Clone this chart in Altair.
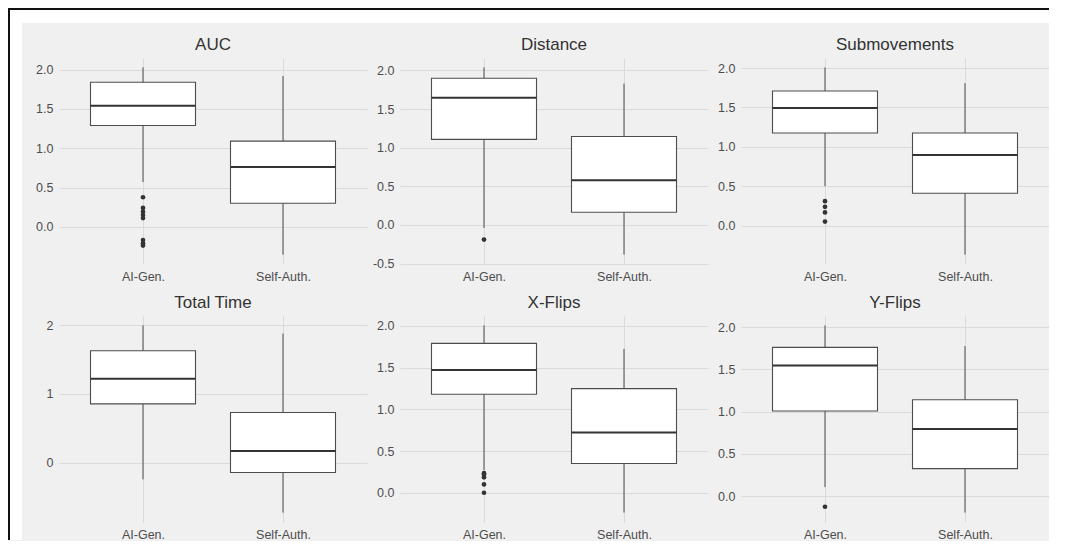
import altair as alt
import pandas as pd

panels = ["AUC", "Distance", "Submovements", "Total Time", "X-Flips", "Y-Flips"]
groups = ["AI-Gen.", "Self-Auth."]

# box statistics per panel (AI-Gen.)
ai_low = [0.57, -0.04, 0.50, -0.246, 0.27, 0.106]
ai_q1 = [1.29, 1.107, 1.176, 0.855, 1.18, 1.007]
ai_med = [1.54, 1.645, 1.494, 1.223, 1.47, 1.545]
ai_q3 = [1.84, 1.90, 1.71, 1.63, 1.79, 1.76]
ai_high = [2.03, 2.04, 2.01, 2.00, 2.006, 2.02]

# box statistics per panel (Self-Auth.)
sa_low = [-0.355, -0.385, -0.37, -0.73, -0.238, -0.196]
sa_q1 = [0.30, 0.163, 0.41, -0.145, 0.35, 0.325]
sa_med = [0.76, 0.577, 0.896, 0.17, 0.723, 0.795]
sa_q3 = [1.09, 1.145, 1.176, 0.73, 1.248, 1.14]
sa_high = [1.92, 1.83, 1.81, 1.88, 1.725, 1.776]

# outliers (all in AI-Gen.)
out_panel = ["AUC"] * 8 + ["Distance"] + ["Submovements"] * 4 + ["X-Flips"] * 5 + ["Y-Flips"]
out_value = [0.376, 0.24, 0.19, 0.15, 0.11, -0.17, -0.21, -0.24,
             -0.19,
             0.31, 0.237, 0.166, 0.05,
             0.235, 0.215, 0.185, 0.10, 0.0,
             -0.126]

tick_values = [
    [0, 0.5, 1, 1.5, 2],
    [-0.5, 0, 0.5, 1, 1.5, 2],
    [0, 0.5, 1, 1.5, 2],
    [0, 1, 2],
    [0, 0.5, 1, 1.5, 2],
    [0, 0.5, 1, 1.5, 2],
]
tick_formats = [".1f", ".1f", ".1f", "d", ".1f", ".1f"]

rows = []
for i, p in enumerate(panels):
    rows.append(dict(panel=p, group=groups[0], low=ai_low[i], q1=ai_q1[i], med=ai_med[i], q3=ai_q3[i], high=ai_high[i]))
    rows.append(dict(panel=p, group=groups[1], low=sa_low[i], q1=sa_q1[i], med=sa_med[i], q3=sa_q3[i], high=sa_high[i]))
box_df = pd.DataFrame(rows)
out_df = pd.DataFrame({"panel": out_panel, "group": groups[0], "value": out_value})

FONT = "Liberation Sans"
LINE = "#4D4D4D"
DARK = "#333333"
BORDER = "#111111"
W, H = 308, 206

def panel_chart(i):
    name = panels[i]
    b = box_df[box_df.panel == name]
    o = out_df[out_df.panel == name]
    vals = list(b.low) + list(b.high) + list(o.value)
    lo, hi = min(vals), max(vals)
    r = hi - lo
    dom = [lo - 0.05 * r, hi + 0.05 * r]
    xs = alt.Scale(type="point", domain=groups, padding=0.6)
    xa = alt.Axis(title=None, labelAngle=0)
    ys = alt.Scale(domain=dom, nice=False, zero=False)
    f = tick_formats[i]
    ya = alt.Axis(
        title=None, values=tick_values[i],
        labelExpr=f"datum.value < 0 ? '-' + format(-datum.value, '{f}') : format(datum.value, '{f}')",
    )

    def X():
        return alt.X("group:N", scale=xs, axis=xa)

    def Y(fld):
        return alt.Y(fld + ":Q", scale=ys, axis=ya)

    whisk = alt.Chart(b).mark_rule(color=LINE, strokeWidth=1).encode(x=X(), y=Y("low"), y2="high:Q")
    boxm = alt.Chart(b).mark_bar(size=105, fill="white", stroke=LINE, strokeWidth=1.1).encode(
        x=X(), y=Y("q1"), y2="q3:Q")
    med = alt.Chart(b).mark_tick(size=105, thickness=2, color=DARK, opacity=1).encode(x=X(), y=Y("med"))
    layers = [whisk, boxm, med]
    if len(o):
        pts = alt.Chart(o).mark_circle(size=22, color=DARK, opacity=1).encode(x=X(), y=Y("value"))
        layers.append(pts)

    offset = 4
    if i == 0:
        # page frame: white margin and dark border line around the grey figure area
        dummy = pd.DataFrame({"k": [0]})
        def rect(x1, x2, y1, y2, c):
            return alt.Chart(dummy).mark_rect(color=c).encode(
                x=alt.value(x1), x2=alt.value(x2), y=alt.value(y1), y2=alt.value(y2))
        layers = [
            rect(-51, -37, -50, 482, "white"),
            rect(-51, 990, -50, -35, "white"),
            rect(-51, -49, -50, 482, BORDER),
            rect(-51, 990, -50, -48, BORDER),
        ] + layers
        offset = 4 - 50

    return alt.layer(*layers).properties(
        width=W, height=H,
        title=alt.TitleParams(name, fontSize=17, font=FONT, color=DARK, fontWeight="normal",
                              anchor="middle", frame="group", offset=offset),
    )

charts = [panel_chart(i) for i in range(6)]

chart = alt.concat(*charts, columns=3, spacing=alt.RowColnumber(row=52, column=33), bounds="flush").resolve_scale(
    x="independent", y="independent"
).properties(
    background="#F0F0F0", padding=0
).configure_view(
    stroke=None
).configure_axis(
    grid=True, gridColor="#DADADA", gridWidth=1, domain=False, ticks=False,
    labelFont=FONT, labelFontSize=12.5, labelColor="#4D4D4D",
).configure_axisY(
    labelPadding=6
).configure_axisX(
    labelPadding=6
)

chart.save("out.html", embed_options={"renderer": "svg", "actions": False})
